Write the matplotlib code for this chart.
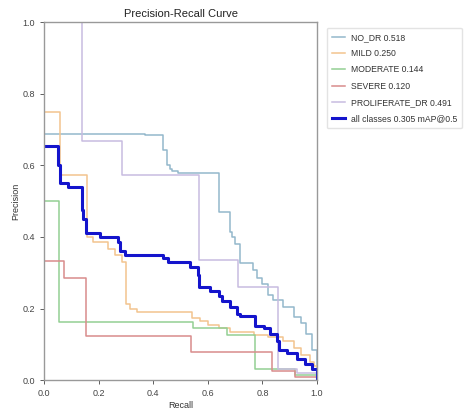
import matplotlib
matplotlib.use("Agg")
import matplotlib.pyplot as plt

plt.rcParams['font.family'] = ['Liberation Sans', 'DejaVu Sans']

# Step curves: recall breakpoints and precision values (steps-post)
no_dr_r = [0.0, 0.37, 0.437, 0.45, 0.46, 0.47, 0.49, 0.52, 0.641, 0.68, 0.69, 0.70, 0.718, 0.767, 0.78, 0.80, 0.82, 0.84, 0.877, 0.914, 0.94, 0.96, 0.98, 1.0]
no_dr_p = [0.688, 0.685, 0.642, 0.60, 0.59, 0.585, 0.58, 0.578, 0.47, 0.414, 0.40, 0.38, 0.326, 0.307, 0.285, 0.27, 0.237, 0.223, 0.205, 0.177, 0.16, 0.13, 0.084, 0.0]

mild_r = [0.0, 0.0575, 0.158, 0.18, 0.235, 0.26, 0.284, 0.30, 0.315, 0.34, 0.54, 0.57, 0.60, 0.64, 0.68, 0.77, 0.82, 0.877, 0.914, 0.94, 0.975, 0.99, 1.0]
mild_p = [0.75, 0.574, 0.40, 0.385, 0.367, 0.35, 0.33, 0.214, 0.20, 0.19, 0.175, 0.165, 0.155, 0.145, 0.135, 0.125, 0.12, 0.11, 0.09, 0.07, 0.05, 0.04, 0.0]

moderate_r = [0.0, 0.055, 0.547, 0.67, 0.774, 0.92, 1.0]
moderate_p = [0.50, 0.163, 0.145, 0.125, 0.03, 0.015, 0.0]

severe_r = [0.0, 0.073, 0.153, 0.539, 0.835, 0.92, 1.0]
severe_p = [0.333, 0.285, 0.123, 0.078, 0.025, 0.01, 0.0]

prolif_r = [0.0, 0.14, 0.284, 0.569, 0.712, 0.856, 0.927, 1.0]
prolif_p = [1.0, 0.667, 0.572, 0.335, 0.26, 0.03, 0.02, 0.0]

all_r = [0.0, 0.051, 0.058, 0.064, 0.088, 0.137, 0.141, 0.153, 0.158, 0.204, 0.272, 0.278, 0.296, 0.302, 0.437, 0.455, 0.535, 0.565, 0.569, 0.608, 0.639, 0.651, 0.682, 0.706, 0.718, 0.774, 0.804, 0.829, 0.853, 0.859, 0.89, 0.927, 0.957, 0.982, 1.0]
all_p = [0.655, 0.60, 0.55, 0.55, 0.54, 0.474, 0.45, 0.41, 0.41, 0.40, 0.385, 0.36, 0.35, 0.35, 0.34, 0.33, 0.315, 0.295, 0.26, 0.25, 0.235, 0.22, 0.205, 0.185, 0.18, 0.15, 0.145, 0.13, 0.11, 0.085, 0.075, 0.06, 0.045, 0.03, 0.0]

labels = ["NO_DR 0.518", "MILD 0.250", "MODERATE 0.144", "SEVERE 0.120", "PROLIFERATE_DR 0.491", "all classes 0.305 mAP@0.5"]
colors = ["#93b8cc", "#f2c48e", "#93cf93", "#d98c8c", "#c8bce0", "#1414cc"]

fig = plt.figure(figsize=(4.71, 4.11), dpi=100)
ax = fig.add_axes([0.094, 0.075, 0.579, 0.871])

series = [(no_dr_r, no_dr_p), (mild_r, mild_p), (moderate_r, moderate_p),
          (severe_r, severe_p), (prolif_r, prolif_p)]
for (r, p), lab, c in zip(series, labels[:5], colors[:5]):
    ax.plot(r, p, drawstyle="steps-post", lw=1.1, color=c, label=lab)
ax.plot(all_r, all_p, drawstyle="steps-post", lw=2.2, color=colors[5], label=labels[5])

ax.set_xlim(0, 1)
ax.set_ylim(0, 1)
ax.set_xticks([0.0, 0.2, 0.4, 0.6, 0.8, 1.0])
ax.set_yticks([0.0, 0.2, 0.4, 0.6, 0.8, 1.0])
ax.tick_params(labelsize=6.5, colors="#444444", length=3, width=0.6)
for s in ax.spines.values():
    s.set_color("#999999")
    s.set_linewidth(1.0)
ax.set_xlabel("Recall", fontsize=6.5, color="#333333", labelpad=2)
ax.set_ylabel("Precision", fontsize=6.5, color="#333333", labelpad=2)
ax.set_title("Precision-Recall Curve", fontsize=8, color="#222222", pad=4)

leg = ax.legend(loc="upper left", bbox_to_anchor=(1.035, 0.985), fontsize=6.2,
                frameon=True, handlelength=1.6, handletextpad=0.6,
                labelspacing=0.85, borderpad=0.6, borderaxespad=0.0,
                fancybox=True)
leg.get_frame().set_edgecolor("#dddddd")
for t in leg.get_texts():
    t.set_color("#333333")

fig.savefig("out.png", dpi=100)
